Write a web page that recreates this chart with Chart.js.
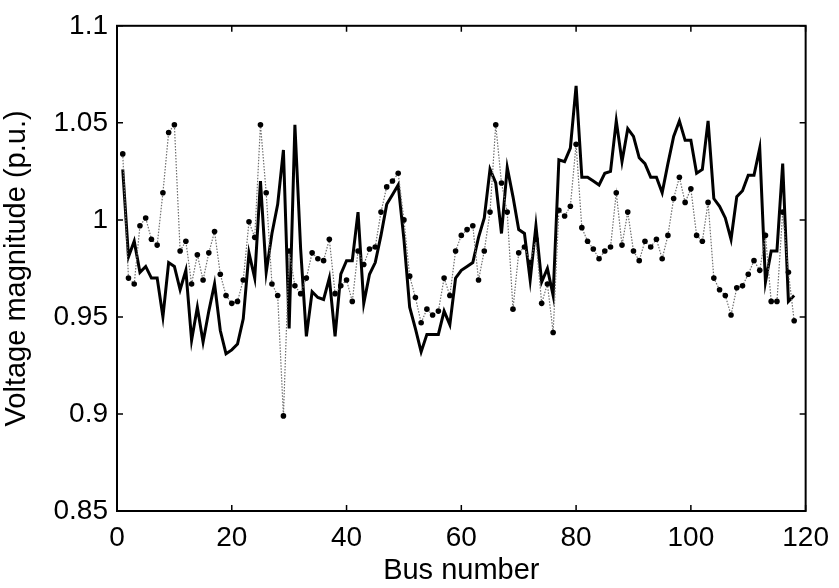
<!DOCTYPE html>
<html>
<head>
<meta charset="utf-8">
<script src="https://cdn.jsdelivr.net/npm/chart.js@4.4.0/dist/chart.umd.min.js"></script>
<style>
  html, body { margin: 0; padding: 0; background: #fff; }
</style>
</head>
<body>
<canvas id="voltChart" width="839" height="588"></canvas>
<script>
// tick labels
const xTicks = [0, 20, 40, 60, 80, 100, 120];
const yTicks = [0.85, 0.9, 0.95, 1, 1.05, 1.1];

// thick black curve, bus 1..118
const voltageSolid = [
  1.026, 0.981, 0.989, 0.973, 0.976, 0.970, 0.970, 0.950, 0.978, 0.976,
  0.964, 0.974, 0.938, 0.955, 0.937, 0.953, 0.967, 0.943, 0.931, 0.933,
  0.936, 0.949, 0.983, 0.970, 1.020, 0.973, 0.993, 1.008, 1.036, 0.944,
  1.049, 0.985, 0.940, 0.963, 0.960, 0.959, 0.970, 0.940, 0.972, 0.979,
  0.979, 1.004, 0.957, 0.972, 0.978, 0.992, 1.008, 1.013, 1.018, 0.990,
  0.955, 0.944, 0.932, 0.941, 0.941, 0.941, 0.953, 0.946, 0.970, 0.974,
  0.976, 0.978, 0.991, 1.001, 1.026, 1.019, 0.993, 1.027, 1.012, 0.995,
  0.993, 0.969, 0.997, 0.968, 0.975, 0.961, 1.031, 1.030, 1.037, 1.069,
  1.022, 1.022, 1.020, 1.018, 1.024, 1.025, 1.051, 1.030, 1.047, 1.043,
  1.032, 1.029, 1.022, 1.022, 1.014, 1.029, 1.043, 1.051, 1.041, 1.041,
  1.024, 1.026, 1.051, 1.011, 1.007, 1.001, 0.990, 1.012, 1.015, 1.023,
  1.023, 1.037, 0.968, 0.984, 0.984, 1.029, 0.958, 0.961
];

// grey dotted curve with markers, bus 1..118
const voltageDotted = [
  1.034, 0.970, 0.967, 0.997, 1.001, 0.990, 0.987, 1.014, 1.045, 1.049,
  0.984, 0.989, 0.967, 0.982, 0.969, 0.983, 0.994, 0.972, 0.961, 0.957,
  0.958, 0.969, 0.999, 0.991, 1.049, 1.014, 0.967, 0.961, 0.899, 0.984,
  0.966, 0.962, 0.970, 0.983, 0.980, 0.979, 0.990, 0.962, 0.966, 0.969,
  0.958, 0.984, 0.977, 0.985, 0.986, 1.004, 1.017, 1.020, 1.024, 1.000,
  0.971, 0.960, 0.947, 0.954, 0.951, 0.953, 0.970, 0.961, 0.984, 0.992,
  0.995, 0.997, 0.969, 0.984, 1.004, 1.049, 1.019, 1.004, 0.954, 0.983,
  0.986, 0.978, 0.990, 0.957, 0.967, 0.942, 1.005, 1.002, 1.007, 1.039,
  0.996, 0.989, 0.985, 0.980, 0.984, 0.986, 1.014, 0.987, 1.004, 0.984,
  0.979, 0.989, 0.986, 0.990, 0.980, 0.992, 1.011, 1.022, 1.009, 1.016,
  0.992, 0.989, 1.009, 0.970, 0.964, 0.961, 0.951, 0.965, 0.966, 0.972,
  0.979, 0.974, 0.992, 0.958, 0.958, 1.004, 0.973, 0.948
];

const fontFamily = "'Liberation Sans', Arial, sans-serif";

// MATLAB style frame: full box with ticks pointing inward on all four sides
const boxPlugin = {
  id: "boxFrame",
  afterDatasetsDraw(chart) {
    const { ctx, chartArea: a, scales } = chart;
    const len = 6;
    ctx.save();
    ctx.strokeStyle = "#000";
    ctx.lineWidth = 1.5;
    ctx.beginPath();
    scales.x.ticks.forEach(t => {
      const px = scales.x.getPixelForValue(t.value);
      ctx.moveTo(px, a.bottom); ctx.lineTo(px, a.bottom - len);
      ctx.moveTo(px, a.top); ctx.lineTo(px, a.top + len);
    });
    scales.y.ticks.forEach(t => {
      const py = scales.y.getPixelForValue(t.value);
      ctx.moveTo(a.left, py); ctx.lineTo(a.left + len, py);
      ctx.moveTo(a.right, py); ctx.lineTo(a.right - len, py);
    });
    ctx.stroke();
    ctx.lineWidth = 2;
    ctx.strokeRect(a.left, a.top, a.right - a.left, a.bottom - a.top);
    ctx.restore();
  }
};

new Chart(document.getElementById("voltChart").getContext("2d"), {
  type: "line",
  data: {
    datasets: [
      {
        label: "dotted",
        data: voltageDotted.map((v, i) => ({ x: i + 1, y: v })),
        borderColor: "#6e6e6e",
        borderWidth: 1.2,
        borderDash: [1.5, 1.5],
        pointRadius: 2.8,
        pointBackgroundColor: "#000",
        pointBorderWidth: 0,
        tension: 0
      },
      {
        label: "solid",
        data: voltageSolid.map((v, i) => ({ x: i + 1, y: v })),
        borderColor: "#000",
        borderWidth: 3,
        pointRadius: 0,
        tension: 0
      }
    ]
  },
  options: {
    responsive: false,
    animation: false,
    events: [],
    layout: { padding: { left: 0, right: 32, top: 22, bottom: 0 } },
    plugins: {
      legend: { display: false },
      tooltip: { enabled: false }
    },
    scales: {
      x: {
        type: "linear",
        min: 0,
        max: 120,
        afterBuildTicks: s => { s.ticks = xTicks.map(v => ({ value: v })); },
        afterFit: s => { s.height = 77; },
        grid: { display: false, drawTicks: false, tickLength: 0 },
        border: { display: false },
        ticks: {
          color: "#000",
          padding: 10,
          maxRotation: 0,
          font: { family: fontFamily, size: 28 }
        },
        title: {
          display: true,
          text: "Bus number",
          color: "#000",
          padding: { top: 0, bottom: 0 },
          font: { family: fontFamily, size: 29 }
        }
      },
      y: {
        min: 0.85,
        max: 1.1,
        afterBuildTicks: s => { s.ticks = yTicks.map(v => ({ value: v })); },
        afterFit: s => { s.width = 117; },
        grid: { display: false, drawTicks: false, tickLength: 0 },
        border: { display: false },
        ticks: {
          color: "#000",
          padding: 9,
          font: { family: fontFamily, size: 28 },
          callback: v => String(parseFloat(Number(v).toFixed(2)))
        },
        title: {
          display: true,
          text: "Voltage magnitude (p.u.)",
          color: "#000",
          padding: { top: 0, bottom: 0 },
          font: { family: fontFamily, size: 29 }
        }
      }
    }
  },
  plugins: [boxPlugin]
});
</script>
</body>
</html>
